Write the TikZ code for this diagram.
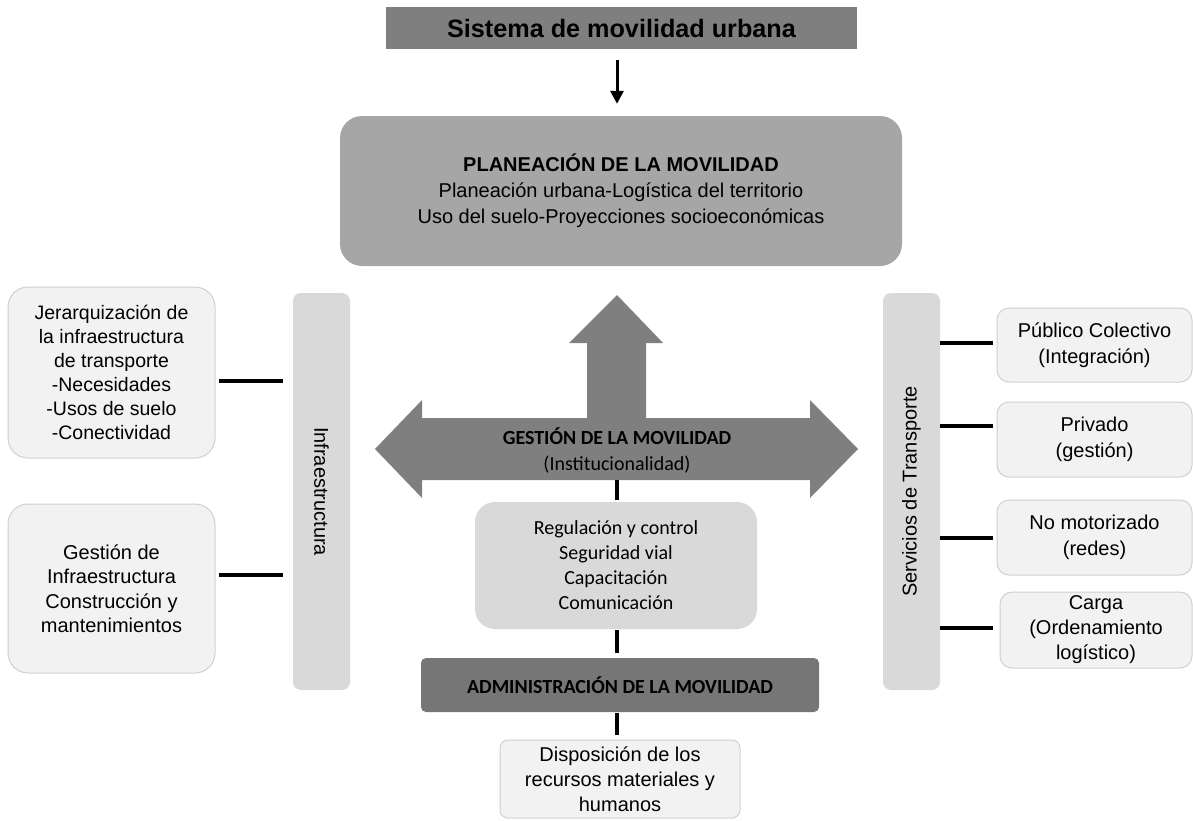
\documentclass[tikz,border=0pt]{standalone}
\usepackage{fontspec}
\setmainfont{Liberation Sans}
\newfontfamily\calib{Carlito}
\usepackage{graphicx}
\usetikzlibrary{arrows.meta,positioning}

\definecolor{titlegray}{HTML}{7F7F7F}
\definecolor{plangray}{HTML}{A6A6A6}
\definecolor{arrowgray}{HTML}{7F7F7F}
\definecolor{admingray}{HTML}{767676}
\definecolor{barfill}{HTML}{D9D9D9}
\definecolor{boxfill}{HTML}{F2F2F2}
\definecolor{boxline}{HTML}{D0D0D0}

\tikzset{
    softbox/.style={draw=boxline,fill=boxfill,line width=1pt,rounded corners=20pt},
    sidebar/.style={fill=barfill,rounded corners=8pt,minimum width=57pt,minimum height=397pt},
    link/.style={line width=4pt},
    arr/.style={line width=3pt,-{Triangle[length=13pt,width=13pt]}},
}

\begin{document}
\begin{tikzpicture}[x=1pt,y=-1pt,
    every node/.style={inner sep=0pt,align=center,font=\fontsize{20}{25}\selectfont}]
    \useasboundingbox (0,0) rectangle (1193,820);

    % title bar on top
    \node[fill=titlegray,minimum width=471pt,minimum height=42pt,
          font=\bfseries\fontsize{25.2}{29}\selectfont] (title) at (621.5,28) {Sistema de movilidad urbana};

    % planning box
    \node[fill=plangray,rounded corners=22pt,minimum width=562pt,minimum height=150pt,
          font=\fontsize{20}{26}\selectfont] (plan) at (621,191)
          {\textbf{PLANEACIÓN DE LA MOVILIDAD}\\Planeación urbana-Logística del territorio\\Uso del suelo-Proyecciones socioeconómicas};

    % big three-way arrow, centre line at x=617
    \coordinate (axis) at (617,449);
    \fill[arrowgray] (617,295) -- (663,343) -- (646,343) -- (646,418) -- (810,418) -- (810,400)
        -- (858,449) -- (810,498) -- (810,480) -- (422,480) -- (422,498) -- (375,449)
        -- (422,400) -- (422,418) -- (587,418) -- (587,343) -- (569,343) -- cycle;
    \node[font=\calib\fontsize{20}{26}\selectfont] (gest) at (617,450)
          {\textbf{GESTIÓN DE LA MOVILIDAD}\\(Institucionalidad)};
    \coordinate (gbot) at (617,480);

    % arrow title -> planning
    \draw[arr] ([yshift=-11pt]title.south -| axis) -- ([yshift=12pt]plan.north -| axis);

    % centre column
    \node[fill=barfill,rounded corners=20pt,minimum width=282pt,minimum height=127pt,
          font=\calib\fontsize{20}{25}\selectfont] (reg) at (616,565.5)
          {Regulación y control\\Seguridad vial\\Capacitación\\Comunicación};
    \node[fill=admingray,rounded corners=5pt,minimum width=398pt,minimum height=54pt,
          font=\calib\bfseries\fontsize{20}{25}\selectfont] (admin) at (620,685) {ADMINISTRACIÓN DE LA MOVILIDAD};
    \node[softbox,rounded corners=8pt,minimum width=240pt,minimum height=78pt] (disp) at (620,779)
          {Disposición de los\\recursos materiales y\\humanos};

    \draw[link,shorten >=2pt] (gbot) -- (reg.north -| gbot);
    \draw[link,shorten <=1pt,shorten >=5pt] (reg.south -| gbot) -- (admin.north -| gbot);
    \draw[link,shorten <=1pt,shorten >=5pt] (admin.south -| gbot) -- (disp.north -| gbot);

    % left side: infrastructure
    \node[sidebar] (infra) at (321.5,491.5) {\rotatebox{-90}{Infraestructura}};
    \node[softbox,minimum width=207pt,minimum height=171pt,font=\fontsize{19.5}{24}\selectfont] (jer) at (111.5,372.5)
          {Jerarquización de\\la infraestructura\\de transporte\\-Necesidades\\-Usos de suelo\\-Conectividad};
    \node[softbox,minimum width=207pt,minimum height=169pt,font=\fontsize{20}{24.5}\selectfont] (ginf) at (111.5,588.5)
          {Gestión de\\Infraestructura\\Construcción y\\mantenimientos};

    \draw[link,shorten <=3pt,shorten >=10pt] ([yshift=-8.5pt]jer.east) -- ([yshift=-8.5pt]jer.east -| infra.west);
    \draw[link,shorten <=3pt,shorten >=10pt] ([yshift=13.5pt]ginf.east) -- ([yshift=13.5pt]ginf.east -| infra.west);

    % right side: transport services
    \node[sidebar] (serv) at (911.5,491.5) {\rotatebox{90}{Servicios de Transporte}};
    \node[softbox,rounded corners=12pt,minimum width=195pt,minimum height=74pt,font=\fontsize{20}{26}\selectfont] (pub) at (1094.5,345)
          {Público Colectivo\\(Integración)};
    \node[softbox,rounded corners=12pt,minimum width=195pt,minimum height=75pt,font=\fontsize{20}{26}\selectfont] (priv) at (1094.5,439.5)
          {Privado\\(gestión)};
    \node[softbox,rounded corners=12pt,minimum width=195pt,minimum height=75pt,font=\fontsize{20}{26}\selectfont] (nomot) at (1094.5,537.5)
          {No motorizado\\(redes)};
    \node[softbox,rounded corners=12pt,minimum width=192pt,minimum height=76pt,font=\fontsize{20}{25}\selectfont] (carga) at (1096,630)
          {Carga\\(Ordenamiento\\logístico)};

    \draw[link,shorten >=4pt] ([yshift=2pt]pub.west -| serv.east) -- ([yshift=2pt]pub.west);
    \draw[link,shorten >=4pt] ([yshift=13.5pt]priv.west -| serv.east) -- ([yshift=13.5pt]priv.west);
    \draw[link,shorten >=4pt] (nomot.west -| serv.east) -- (nomot.west);
    \draw[link,shorten >=7pt] ([yshift=2pt]carga.west -| serv.east) -- ([yshift=2pt]carga.west);
\end{tikzpicture}
\end{document}
